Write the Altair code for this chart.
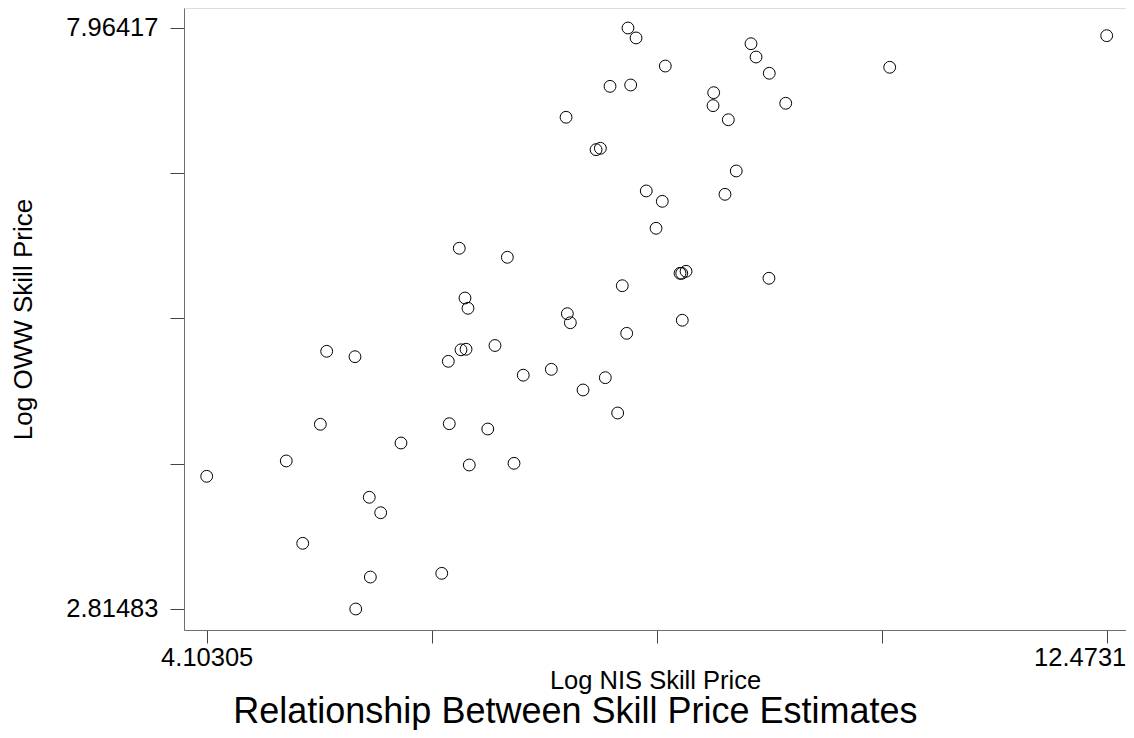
import altair as alt
import pandas as pd

# Log NIS skill price (x) and Log OWW skill price (y)
nis = [4.10305, 4.843, 4.996, 5.160, 5.219, 5.482, 5.489, 5.615, 5.625, 5.721,
       5.910, 6.289, 6.350, 6.359, 6.452, 6.468, 6.515, 6.505, 6.533, 6.545,
       6.717, 6.784, 6.899, 6.961, 7.047, 7.308, 7.445, 7.457, 7.485, 7.603,
       7.724, 7.764, 7.810, 7.854, 7.925, 7.968, 8.009, 8.021, 8.046, 8.096,
       8.191, 8.340, 8.282, 8.368, 8.505, 8.521, 8.561, 8.526, 8.818, 8.812,
       8.923, 8.954, 9.028, 9.165, 9.212, 9.335, 9.332, 9.488, 10.455, 12.4731]
oww = [3.991, 4.127, 3.397, 4.452, 5.099, 5.051, 2.81483, 3.805, 3.098, 3.668,
       4.286, 3.131, 5.010, 4.457, 6.012, 5.112, 5.117, 5.571, 5.480, 4.091,
       4.410, 5.150, 5.932, 4.106, 4.887, 4.939, 7.173, 5.432, 5.352, 4.756,
       6.886, 6.898, 4.865, 7.447, 4.552, 5.680, 5.258, 7.96417, 7.459, 7.876,
       6.520, 6.428, 6.189, 7.627, 5.790, 5.790, 5.808, 5.374, 7.391, 7.276,
       6.490, 7.151, 6.697, 7.825, 7.707, 7.563, 5.746, 7.297, 7.616, 7.896]

x_ticks = [4.10305, 6.1955625, 8.288075, 10.3805875, 12.4731]
x_tick_labels = ["4.10305", "", "", "", "12.4731"]
y_ticks = [2.81483, 4.102165, 5.3895, 6.676835, 7.96417]
y_tick_labels = ["2.81483", "", "", "", "7.96417"]

x_domain = [3.8919, 12.6526]
y_domain = [2.6287, 8.1414]

df = pd.DataFrame({"nis": nis, "oww": oww})


def label_expr(vals, labels):
    expr = "''"
    for v, l in reversed(list(zip(vals, labels))):
        expr = f"abs(datum.value - {v}) < 1e-6 ? '{l}' : ({expr})"
    return expr


FONT = "Liberation Sans"

x_axis = alt.Axis(
    values=x_ticks,
    labelExpr=label_expr(x_ticks, x_tick_labels),
    grid=False,
    tickSize=13,
    labelPadding=2,
    labelFontSize=25.5,
    labelFont=FONT,
    labelColor="black",
    labelAlign="center",
    labelOffset={"condition": {"test": "datum.value > 12", "value": -27}, "value": 0},
    title="Log NIS Skill Price",
    titleFontSize=25.5,
    titleFont=FONT,
    titleFontWeight="normal",
    titleColor="black",
    titlePadding=-2,
    domainColor="#6e6e6e",
    tickColor="#444",
    labelOverlap=False,
)

y_axis = alt.Axis(
    values=y_ticks,
    labelExpr=label_expr(y_ticks, y_tick_labels),
    grid=False,
    tickSize=14,
    labelPadding=12,
    labelFontSize=25.5,
    labelFont=FONT,
    labelColor="black",
    title="Log OWW Skill Price",
    titleFontSize=26,
    titleFont=FONT,
    titleFontWeight="normal",
    titleColor="black",
    titlePadding=29,
    domainColor="#6e6e6e",
    tickColor="#444",
    labelOverlap=False,
)

chart = (
    alt.Chart(df)
    .mark_point(shape="circle", filled=False, color="black", strokeWidth=1, size=140, opacity=1)
    .encode(
        x=alt.X("nis:Q", scale=alt.Scale(domain=x_domain, zero=False, nice=False), axis=x_axis),
        y=alt.Y("oww:Q", scale=alt.Scale(domain=y_domain, zero=False, nice=False), axis=y_axis),
    )
    .properties(
        width=942,
        height=622,
        title=alt.TitleParams(
            text="Relationship Between Skill Price Estimates",
            orient="bottom",
            anchor="middle",
            frame="bounds",
            fontSize=36,
            font=FONT,
            fontWeight="normal",
            color="black",
            offset=1,
            dx=7,
        ),
        autosize=alt.AutoSizeParams(type="none"),
        padding={"left": 176, "top": 0, "right": 0, "bottom": 100},
    )
    .configure_view(stroke=None)
    .configure(background="white")
)

chart.save("out.html", embed_options={"renderer": "svg", "actions": False})
